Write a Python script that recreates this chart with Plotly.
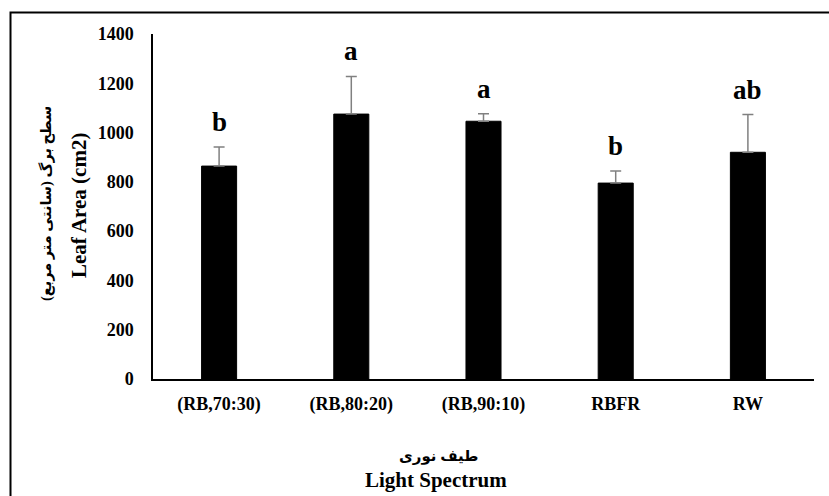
import plotly.graph_objects as go

categories = ["(RB,70:30)", "(RB,80:20)", "(RB,90:10)", "RBFR", "RW"]
leaf_area = [864, 1075, 1046, 795, 920]
errors = [77, 153, 30, 49, 153]
letters = ["b", "a", "a", "b", "ab"]
y_ticks = [0, 200, 400, 600, 800, 1000, 1200, 1400]

W, H = 829, 496
L, R, T, B = 153, 15, 34, 117
pw, ph = W - L - R, H - T - B

def px_x(x):
    return (x - L) / pw

def px_y(y):
    return (H - B - y) / ph

FONT = "Liberation Serif, DejaVu Sans, serif"

fig = go.Figure()
fig.add_trace(go.Bar(
    x=categories, y=leaf_area,
    marker=dict(color="black", line=dict(color="black", width=1)),
    error_y=dict(type="data", array=errors, symmetric=False, arrayminus=[0]*5,
                 color="#808080", thickness=1.5, width=5.5),
    showlegend=False,
))

for c, v, e, t in zip(categories, leaf_area, errors, letters):
    fig.add_annotation(x=c, y=v + e, text=t, showarrow=False,
                       yanchor="bottom", yshift=8,
                       font=dict(family=FONT, size=27, color="black", weight="bold"))

# axis titles
fig.add_annotation(xref="paper", yref="paper", x=px_x(46), y=px_y(204),
                   text="سطح برگ (سانتی متر مربع)", textangle=-90,
                   showarrow=False, xanchor="center", yanchor="middle",
                   font=dict(family=FONT, size=14.5, color="black", weight="bold"))
fig.add_annotation(xref="paper", yref="paper", x=px_x(79), y=px_y(206),
                   text="Leaf Area (cm2)", textangle=-90,
                   showarrow=False, xanchor="center", yanchor="middle",
                   font=dict(family=FONT, size=21, color="black", weight="bold"))
fig.add_annotation(xref="paper", yref="paper", x=px_x(438), y=px_y(456),
                   text="طیف نوری", showarrow=False,
                   xanchor="center", yanchor="middle",
                   font=dict(family=FONT, size=15, color="black", weight="bold"))
fig.add_annotation(xref="paper", yref="paper", x=px_x(436), y=px_y(480),
                   text="Light Spectrum", showarrow=False,
                   xanchor="center", yanchor="middle",
                   font=dict(family=FONT, size=21, color="black", weight="bold"))

# outer border
fig.add_shape(type="rect", xref="paper", yref="paper",
              x0=px_x(10.5), x1=px_x(840), y0=px_y(510), y1=px_y(12.5),
              line=dict(color="black", width=2), fillcolor="rgba(0,0,0,0)")

fig.update_layout(
    width=W, height=H,
    margin=dict(l=L, r=R, t=T, b=B, autoexpand=False),
    paper_bgcolor="white", plot_bgcolor="white",
    bargap=0.735,
    font=dict(family=FONT, color="black"),
    xaxis=dict(showline=True, linecolor="black", linewidth=1.5, ticks="",
               showgrid=False,
               tickfont=dict(family=FONT, size=18, color="black", weight="bold"),
               ticklabelstandoff=8),
    yaxis=dict(range=[0, 1400], tickvals=y_ticks, showline=True, linecolor="black",
               linewidth=1.5, ticks="", showgrid=False, zeroline=False,
               tickfont=dict(family=FONT, size=18, color="black", weight="bold"),
               ticklabelstandoff=14),
)

fig.write_html("out.html", config={"displayModeBar": False},
               post_script="document.body.style.margin='0';")
